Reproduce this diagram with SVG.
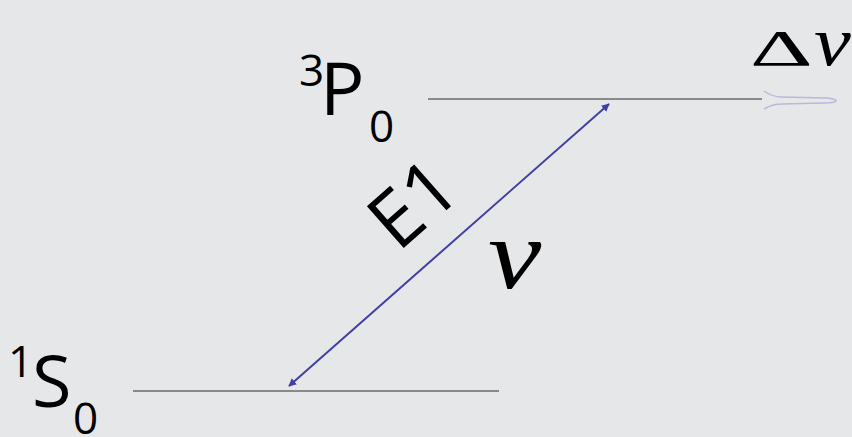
<svg xmlns="http://www.w3.org/2000/svg" width="852" height="437" viewBox="0 0 852 437">
<style>
.lvl{stroke:#8a8a8d;stroke-width:2;fill:none}
.sans{font-family:"Open Sans","Noto Sans","Liberation Sans",sans-serif;fill:#000}
.ser{font-family:"Liberation Serif","DejaVu Serif",serif;font-style:italic;fill:#000}
.up{font-family:"Liberation Serif","DejaVu Serif",serif;font-style:normal;fill:#000}
.conn{stroke:#3f3fa6;stroke-width:2;fill:none}
</style>
<defs>
<marker id="ah" viewBox="0 0 10 10" refX="9" refY="5" markerWidth="8" markerHeight="8" orient="auto-start-reverse" markerUnits="userSpaceOnUse">
<path d="M0,0 L10,5 L0,10 z" fill="#3f3fa6"/>
</marker>
</defs>
<rect width="852" height="437" fill="#e6e7e8"/>
<g id="level-3P0">
<line class="lvl" x1="428" y1="99" x2="762" y2="99"/>
<text class="sans" x="299" y="86" font-size="44">3</text>
<text class="sans" x="320" y="115" font-size="74">P</text>
<text class="sans" x="369" y="142" font-size="44">0</text>
</g>
<g id="level-1S0">
<line class="lvl" x1="133" y1="391" x2="499" y2="391"/>
<text class="sans" x="8" y="377" font-size="44">1</text>
<text class="sans" x="32" y="407" font-size="72">S</text>
<text class="sans" x="73" y="434" font-size="44">0</text>
</g>
<g id="broadening">
<path d="M764,91 Q772,97 782,97 L826,98 Q837,99 836,101 Q834,103 824,103 L782,104 Q772,104 764,109" fill="none" stroke="#b8b8dc" stroke-width="1.5"/>
<text class="up" font-size="50" transform="translate(750,65) scale(1.95,1)">Δ</text>
<text class="ser" font-size="69" transform="translate(814,65) scale(1.2,1)">ν</text>
</g>
<g id="connectors">
<line class="conn" x1="289" y1="386" x2="609" y2="104" marker-start="url(#ah)" marker-end="url(#ah)"/>
</g>
<g id="labels">
<text class="sans" font-size="78" transform="translate(398,253) rotate(-41.4)">E1</text>
<text class="ser" font-size="100" transform="translate(488,288) scale(1.2,1)">ν</text>
</g>
</svg>
